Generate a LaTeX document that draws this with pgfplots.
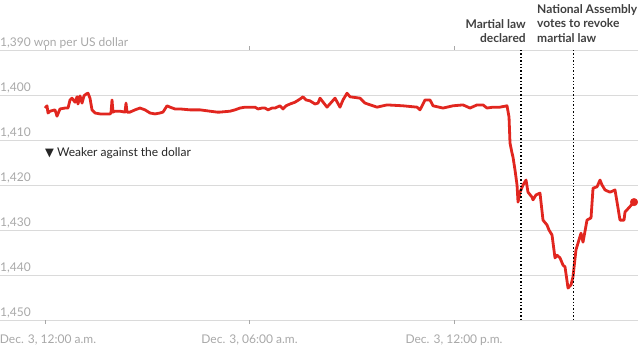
\documentclass[border=0pt]{standalone}
\usepackage{fontspec}
\setmainfont{Lato}
\newfontfamily\dejavu{DejaVu Sans}
\usepackage{pgfplots}
\pgfplotsset{compat=1.18}
\usepackage{pgfplotstable}
\definecolor{linered}{HTML}{E1261F}
\definecolor{gridgray}{HTML}{DADADA}
\definecolor{labgray}{HTML}{A8A8A8}
\definecolor{anngray}{HTML}{404040}
\pgfplotstableread{
h v
0 1402.9
0.059 1402.4
0.088 1404.0
0.147 1403.6
0.293 1403.3
0.352 1404.7
0.440 1403.1
0.587 1402.9
0.675 1402.9
0.734 1401.1
0.792 1400.7
0.880 1401.6
0.939 1400.4
0.968 1402.0
1.027 1400.2
1.086 1401.8
1.144 1400.2
1.203 1399.8
1.262 1399.6
1.320 1400.7
1.379 1403.3
1.467 1404.0
1.614 1404.2
1.760 1404.2
1.907 1404.2
1.936 1404.0
1.966 1401.1
1.995 1403.8
2.054 1403.6
2.200 1403.6
2.347 1403.8
2.377 1401.8
2.406 1403.8
2.494 1403.8
2.641 1403.3
2.787 1402.9
2.934 1403.3
3.081 1404.0
3.227 1404.2
3.374 1404.0
3.462 1403.8
3.580 1402.4
3.668 1402.7
3.814 1403.1
3.961 1403.1
4.254 1403.3
4.548 1403.3
4.841 1403.6
5.047 1403.8
5.135 1403.8
5.428 1403.6
5.575 1403.3
5.721 1402.9
5.868 1402.7
6.161 1402.7
6.249 1403.1
6.367 1402.9
6.455 1402.9
6.543 1403.3
6.660 1402.9
6.748 1402.9
6.895 1402.4
6.983 1403.1
7.071 1402.4
7.188 1402.0
7.335 1401.6
7.482 1400.9
7.570 1400.4
7.658 1401.1
7.775 1401.3
7.922 1402.0
8.010 1401.8
8.069 1400.7
8.274 1402.7
8.509 1400.7
8.655 1402.7
8.743 1401.1
8.861 1399.6
8.949 1400.4
9.242 1400.7
9.389 1401.8
9.741 1402.7
10.034 1402.2
10.504 1402.4
10.914 1402.7
11.002 1403.3
11.149 1401.1
11.296 1401.1
11.384 1402.4
11.677 1402.9
11.971 1402.4
12.264 1402.2
12.470 1402.9
12.675 1402.2
12.851 1402.2
12.968 1402.9
13.145 1402.7
13.350 1402.7
13.555 1402.4
13.614 1404.9
13.643 1410.7
13.702 1412.9
13.731 1413.8
13.790 1416.7
13.849 1420.0
13.878 1423.8
13.937 1421.6
14.025 1420.0
14.113 1418.9
14.171 1421.6
14.289 1422.7
14.318 1423.3
14.406 1422.2
14.523 1421.8
14.611 1427.8
14.729 1428.9
14.787 1430.0
14.875 1431.1
14.963 1436.2
15.022 1435.6
15.110 1436.2
15.198 1437.8
15.257 1438.2
15.345 1442.9
15.433 1442.2
15.491 1440.4
15.579 1434.4
15.726 1430.7
15.785 1432.7
15.902 1427.8
16.020 1427.3
16.079 1420.7
16.196 1420.4
16.284 1418.9
16.343 1420.0
16.431 1421.1
16.577 1421.6
16.724 1421.1
16.870 1427.8
16.988 1427.8
17.017 1426.0
17.281 1423.8
}\fxdata
\begin{document}
\begin{tikzpicture}
\useasboundingbox (0,-31pt) rectangle (641pt,320pt);
\begin{axis}[
  at={(0,0)}, anchor=south west,
  scale only axis, width=638pt, height=270pt,
  xmin=-1.3203, xmax=17.398,
  ymin=1390, ymax=1450, y dir=reverse,
  ytick={1390,1400,1410,1420,1430,1440,1450},
  yticklabels={{1,390 won per US dollar},{1,400},{1,410},{1,420},{1,430},{1,440},{1,450}},
  xtick={0,6,12},
  xticklabels={{\hspace*{6pt}Dec. 3, 12:00 a.m.},{Dec. 3, 06:00 a.m.},{Dec. 3, 12:00 p.m.}},
  ymajorgrids,
  grid style={color=gridgray, line width=0.9pt},
  axis line style={draw=none},
  xtick align=outside,
  ytick align=inside,
  major tick length=4pt,
  xtick style={draw=labgray, line width=0.6pt},
  ytick style={draw=none},
  yticklabel style={font=\fontsize{12}{14}\selectfont, text=labgray, anchor=base west, inner sep=0pt, yshift=4pt},
  xticklabel style={font=\fontsize{12}{14}\selectfont, text=labgray, anchor=base, inner sep=0pt, yshift=-19pt},
  clip=false,
]
\addplot[linered, line width=2.8pt, line join=round] table[x=h, y=v] {\fxdata};
\addplot[only marks, mark=*, mark size=3.8pt, linered] coordinates {(17.281,1423.8)};
\draw[black, line width=1.4pt, dash pattern=on 1.4pt off 2pt] (axis cs:13.966,1390) -- (axis cs:13.966,1450);
\draw[black, line width=1.4pt, dash pattern=on 1.4pt off 2pt] (axis cs:15.512,1390) -- (axis cs:15.512,1450);
\node[anchor=base east, inner sep=0pt, font=\fontsize{12}{14}\selectfont\bfseries, text=anngray] at (axis cs:14.11,1385.33) {Martial law};
\node[anchor=base east, inner sep=0pt, font=\fontsize{12}{14}\selectfont\bfseries, text=anngray] at (axis cs:14.11,1388.44) {declared};
\node[anchor=base west, inner sep=0pt, font=\fontsize{12}{14}\selectfont\bfseries, text=anngray] at (axis cs:14.435,1381.78) {National Assembly};
\node[anchor=base west, inner sep=0pt, font=\fontsize{12}{14}\selectfont\bfseries, text=anngray] at (axis cs:14.435,1385.11) {votes to revoke};
\node[anchor=base west, inner sep=0pt, font=\fontsize{12}{14}\selectfont\bfseries, text=anngray] at (axis cs:14.435,1388.44) {martial law};
\node[anchor=base west, inner sep=0pt, font=\fontsize{12}{14}\selectfont, text=black!85] at (axis cs:0,1413.56) {{\dejavu\fontsize{11.5}{12}\selectfont ▼}\hspace{3pt}Weaker against the dollar};
\end{axis}
\end{tikzpicture}
\end{document}
